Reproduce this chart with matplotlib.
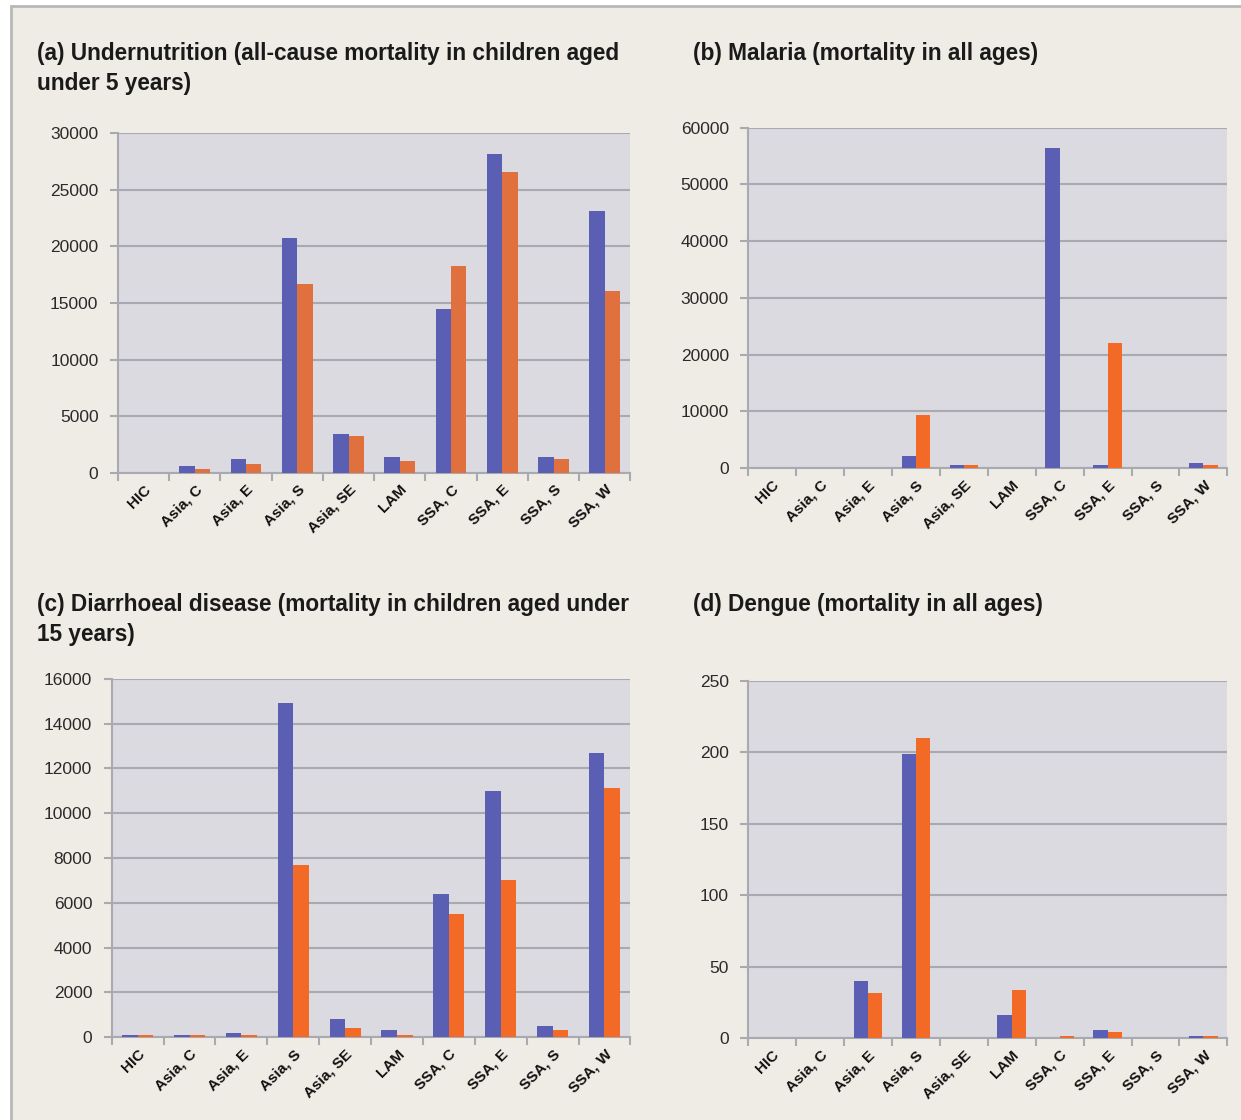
import numpy as np
import matplotlib
matplotlib.use('Agg')
import matplotlib.pyplot as plt
from matplotlib.patches import Rectangle

plt.rcParams['font.family'] = ['Liberation Sans', 'DejaVu Sans']

regions = ["HIC", "Asia, C", "Asia, E", "Asia, S", "Asia, SE", "LAM",
           "SSA, C", "SSA, E", "SSA, S", "SSA, W"]

under_blue = [0, 550, 1200, 20700, 3400, 1400, 14500, 28200, 1400, 23100]
under_orange = [0, 350, 800, 16700, 3200, 1000, 18300, 26600, 1200, 16100]

malaria_blue = [0, 0, 0, 2100, 500, 0, 56500, 500, 0, 900]
malaria_orange = [0, 0, 0, 9300, 500, 0, 0, 22100, 0, 500]

diarr_blue = [100, 100, 200, 14900, 800, 300, 6400, 11000, 500, 12700]
diarr_orange = [100, 100, 100, 7700, 400, 100, 5500, 7000, 300, 11100]

dengue_blue = [0, 0, 40, 199, 0, 16, 0, 6, 0, 1.5]
dengue_orange = [0, 0, 32, 210, 0, 34, 1.5, 4.5, 0, 1.5]

titles = [
    "(a) Undernutrition (all-cause mortality in children aged\nunder 5 years)",
    "(b) Malaria (mortality in all ages)",
    "(c) Diarrhoeal disease (mortality in children aged under\n15 years)",
    "(d) Dengue (mortality in all ages)",
]
# title position in pixels (left, top)
title_pos = [(37, 42), (693, 42), (37, 593), (693, 593)]

panels = [
    (under_blue, under_orange, 30000, 5000, '#e0703e', [0.095, 0.578, 0.413, 0.303]),
    (malaria_blue, malaria_orange, 60000, 10000, '#f26a25', [0.603, 0.582, 0.386, 0.304]),
    (diarr_blue, diarr_orange, 16000, 2000, '#f26a25', [0.090, 0.074, 0.418, 0.320]),
    (dengue_blue, dengue_orange, 250, 50, '#f26a25', [0.603, 0.073, 0.386, 0.319]),
]

blue = '#5b5fb4'
bg = '#eeece4'
W, H = 1241, 1120

fig = plt.figure(figsize=(W / 100, H / 100), dpi=100, facecolor='white')
fig.patches.append(Rectangle((0.009, -0.01), 1.0, 1.005, transform=fig.transFigure,
                             facecolor=bg, edgecolor='#b8b8b8', linewidth=2, zorder=-10))

x = np.arange(len(regions))
w = 0.3
for (vb, vo, ymax, step, ocol, rect), title, (tx, ty) in zip(panels, titles, title_pos):
    ax = fig.add_axes(rect)
    ax.set_facecolor('#dbdae0')
    ax.bar(x - w / 2, vb, width=w, color=blue, zorder=3)
    ax.bar(x + w / 2, vo, width=w, color=ocol, zorder=3)
    ax.set_xlim(-0.5, len(regions) - 0.5)
    ax.set_ylim(0, ymax)
    ax.set_yticks(np.arange(0, ymax + 1, step))
    ax.yaxis.grid(True, color='#a9a9b2', linewidth=1.5, zorder=1)
    ax.set_axisbelow(True)
    ax.set_xticks(x)
    ax.set_xticklabels(regions, rotation=45, ha='right', rotation_mode='anchor',
                       fontsize=11, fontweight='bold', color='#111111')
    ax.set_xticks(np.arange(-0.5, len(regions)), minor=True)
    ax.tick_params(axis='x', which='major', length=0, pad=7)
    ax.tick_params(axis='x', which='minor', length=6, width=1.5, color='#a9a9b2')
    ax.tick_params(axis='y', length=6, width=1.5, color='#a9a9b2', labelsize=12.5,
                   labelcolor='#2a2a2a', pad=8)
    for s in ['top', 'right']:
        ax.spines[s].set_visible(False)
    for s in ['left', 'bottom']:
        ax.spines[s].set_color('#a9a9b2')
        ax.spines[s].set_linewidth(1.5)
    fig.text(tx / W, 1 - ty / H, title, fontsize=16.3, fontweight='bold',
             color='#1a1a1a', va='top', ha='left', linespacing=1.4)

fig.savefig('out.png', dpi=100, facecolor='white')
